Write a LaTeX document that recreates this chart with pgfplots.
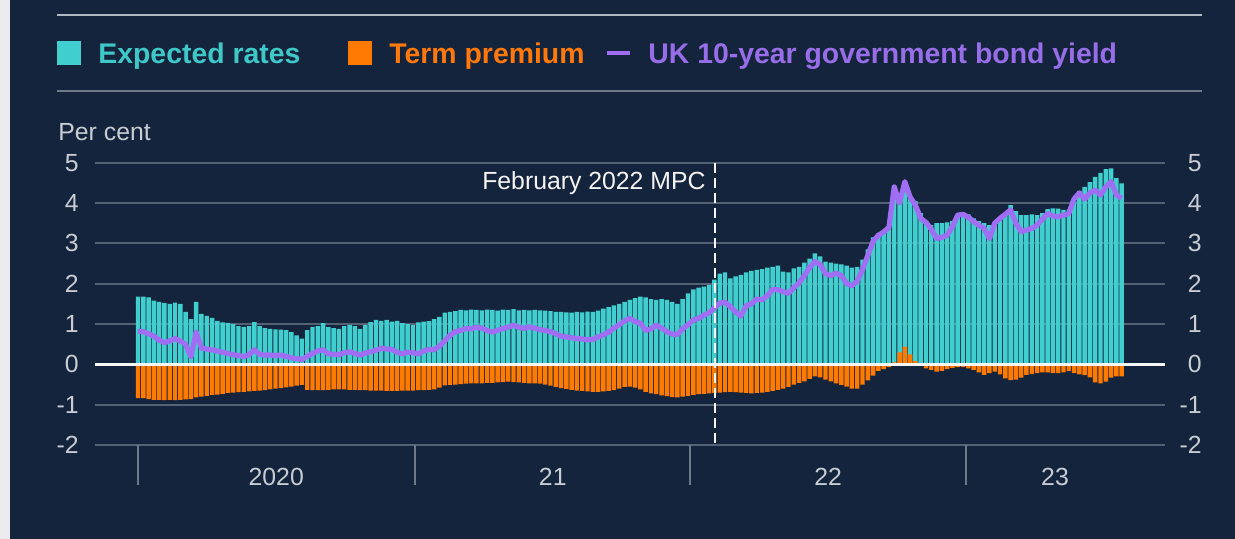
\documentclass[border=0pt]{standalone}
\usepackage{fontspec}
\setmainfont{Liberation Sans}
\usepackage{pgfplots}
\usepackage{pgfplotstable}
\pgfplotsset{compat=1.18}

\definecolor{bg}{RGB}{20,36,61}
\definecolor{strip}{RGB}{235,235,235}
\definecolor{cyanbar}{RGB}{64,206,206}
\definecolor{orangebar}{RGB}{255,122,0}
\definecolor{purp}{RGB}{160,110,242}
\definecolor{cyantext}{RGB}{62,200,200}
\definecolor{orangetext}{RGB}{255,120,10}
\definecolor{purptext}{RGB}{152,110,232}
\definecolor{gridc}{RGB}{84,98,118}
\definecolor{sepc}{RGB}{110,122,138}
\definecolor{labelc}{RGB}{200,205,212}
\definecolor{topline}{RGB}{176,184,194}
\definecolor{midline}{RGB}{110,122,138}

% weeks since 1 Jan 2020; e = expected rates, t = term premium, y = 10-year yield
\pgfplotstableread{
w e t y
0 1.68 -0.84 0.82
1 1.68 -0.84 0.81
2 1.66 -0.86 0.76
3 1.58 -0.88 0.70
4 1.55 -0.88 0.60
5 1.52 -0.89 0.54
6 1.50 -0.88 0.58
7 1.53 -0.89 0.64
8 1.50 -0.88 0.58
9 1.30 -0.87 0.50
10 1.12 -0.86 0.19
11 1.55 -0.82 0.80
12 1.25 -0.80 0.40
13 1.20 -0.78 0.38
14 1.15 -0.76 0.36
15 1.08 -0.75 0.33
16 1.04 -0.73 0.30
17 1.03 -0.71 0.27
18 1.00 -0.70 0.24
19 0.95 -0.69 0.22
20 0.93 -0.68 0.19
21 0.95 -0.67 0.24
22 1.05 -0.66 0.36
23 0.95 -0.65 0.25
24 0.90 -0.64 0.23
25 0.88 -0.62 0.23
26 0.87 -0.60 0.22
27 0.86 -0.59 0.23
28 0.85 -0.57 0.20
29 0.80 -0.55 0.16
30 0.72 -0.53 0.14
31 0.64 -0.51 0.12
32 0.85 -0.63 0.20
33 0.93 -0.64 0.27
34 0.95 -0.64 0.33
35 1.02 -0.64 0.36
36 0.92 -0.63 0.26
37 0.90 -0.62 0.25
38 0.88 -0.62 0.24
39 0.95 -0.62 0.29
40 0.97 -0.63 0.31
41 0.95 -0.63 0.27
42 0.88 -0.64 0.23
43 0.98 -0.64 0.28
44 1.05 -0.65 0.31
45 1.10 -0.65 0.35
46 1.08 -0.65 0.40
47 1.10 -0.66 0.38
48 1.06 -0.66 0.37
49 1.08 -0.66 0.30
50 1.02 -0.65 0.26
51 1.00 -0.65 0.30
52 0.98 -0.65 0.29
53 1.04 -0.64 0.26
54 1.06 -0.64 0.33
55 1.07 -0.63 0.37
56 1.12 -0.62 0.36
57 1.18 -0.58 0.45
58 1.28 -0.52 0.58
59 1.30 -0.51 0.72
60 1.32 -0.50 0.81
61 1.35 -0.49 0.84
62 1.34 -0.48 0.89
63 1.36 -0.47 0.88
64 1.35 -0.47 0.92
65 1.34 -0.47 0.90
66 1.36 -0.46 0.84
67 1.35 -0.46 0.80
68 1.33 -0.45 0.84
69 1.36 -0.44 0.89
70 1.35 -0.43 0.92
71 1.37 -0.44 0.97
72 1.34 -0.45 0.92
73 1.35 -0.46 0.89
74 1.34 -0.47 0.93
75 1.35 -0.47 0.90
76 1.34 -0.48 0.86
77 1.33 -0.50 0.84
78 1.32 -0.53 0.81
79 1.30 -0.56 0.76
80 1.30 -0.59 0.70
81 1.29 -0.61 0.68
82 1.28 -0.63 0.66
83 1.30 -0.65 0.64
84 1.29 -0.66 0.63
85 1.31 -0.67 0.61
86 1.30 -0.68 0.62
87 1.33 -0.68 0.68
88 1.38 -0.67 0.73
89 1.42 -0.66 0.80
90 1.46 -0.64 0.90
91 1.50 -0.60 0.98
92 1.55 -0.56 1.08
93 1.60 -0.55 1.14
94 1.64 -0.58 1.06
95 1.68 -0.62 1.02
96 1.66 -0.68 0.84
97 1.62 -0.72 0.88
98 1.60 -0.74 0.97
99 1.62 -0.77 0.90
100 1.60 -0.79 0.81
101 1.55 -0.81 0.75
102 1.50 -0.82 0.74
103 1.62 -0.80 0.88
104 1.76 -0.78 0.98
105 1.86 -0.76 1.10
106 1.90 -0.74 1.14
107 1.93 -0.73 1.22
108 1.97 -0.72 1.28
109 2.10 -0.71 1.40
110 2.25 -0.70 1.52
111 2.28 -0.69 1.54
112 2.13 -0.68 1.43
113 2.18 -0.69 1.30
114 2.22 -0.70 1.20
115 2.28 -0.71 1.45
116 2.32 -0.72 1.50
117 2.34 -0.71 1.62
118 2.36 -0.70 1.60
119 2.40 -0.68 1.70
120 2.42 -0.66 1.86
121 2.45 -0.63 1.85
122 2.30 -0.60 1.80
123 2.28 -0.56 1.76
124 2.38 -0.50 1.90
125 2.42 -0.46 2.02
126 2.52 -0.42 2.20
127 2.62 -0.36 2.40
128 2.75 -0.30 2.55
129 2.68 -0.32 2.48
130 2.55 -0.38 2.25
131 2.52 -0.42 2.20
132 2.50 -0.47 2.26
133 2.48 -0.51 2.20
134 2.45 -0.55 2.00
135 2.40 -0.60 1.95
136 2.42 -0.60 2.06
137 2.60 -0.50 2.35
138 2.85 -0.40 2.70
139 3.15 -0.28 3.05
140 3.25 -0.16 3.20
141 3.32 -0.12 3.28
142 3.40 -0.07 3.40
143 4.40 0.05 4.40
144 4.05 0.30 4.00
145 4.52 0.44 4.53
146 4.15 0.25 4.15
147 4.05 0.08 3.95
148 3.75 0.02 3.62
149 3.55 -0.10 3.52
150 3.45 -0.14 3.35
151 3.50 -0.18 3.12
152 3.50 -0.16 3.15
153 3.52 -0.12 3.20
154 3.55 -0.09 3.42
155 3.68 -0.07 3.70
156 3.74 -0.07 3.72
157 3.72 -0.10 3.65
158 3.62 -0.14 3.54
159 3.55 -0.20 3.45
160 3.50 -0.26 3.37
161 3.45 -0.22 3.12
162 3.48 -0.18 3.50
163 3.62 -0.25 3.62
164 3.75 -0.35 3.72
165 3.95 -0.39 3.83
166 3.80 -0.38 3.50
167 3.70 -0.33 3.29
168 3.70 -0.26 3.33
169 3.72 -0.24 3.37
170 3.70 -0.22 3.45
171 3.75 -0.20 3.60
172 3.85 -0.20 3.74
173 3.87 -0.22 3.68
174 3.86 -0.22 3.66
175 3.83 -0.20 3.70
176 3.84 -0.17 3.74
177 4.05 -0.22 4.10
178 4.30 -0.25 4.25
179 4.40 -0.27 4.10
180 4.52 -0.32 4.25
181 4.65 -0.45 4.32
182 4.75 -0.47 4.20
183 4.84 -0.43 4.40
184 4.86 -0.33 4.53
185 4.62 -0.30 4.20
186 4.49 -0.30 4.12
}\data

\begin{document}
\begin{tikzpicture}[x=0.5pt,y=-0.5pt]
\useasboundingbox (0,0) rectangle (1235,539);
\fill[bg] (0,0) rectangle (1235,539);
\fill[strip] (0,0) rectangle (10,539);

% header rules
\draw[topline, line width=1.3pt] (57,15) -- (1202,15);
\draw[midline, line width=0.6pt] (57,91) -- (1202,91);

% legend
\fill[cyanbar] (57,41) rectangle (81,65);
\node[anchor=base west, inner sep=0pt, text=cyantext, font=\fontsize{14.2}{16}\selectfont\bfseries] at (98,63.5) {Expected rates};
\fill[orangebar] (348,41) rectangle (372,65);
\node[anchor=base west, inner sep=0pt, text=orangetext, font=\fontsize{14.2}{16}\selectfont\bfseries] at (389,63.5) {Term premium};
\draw[purp, line width=2.4pt] (607,53) -- (630,53);
\node[anchor=base west, inner sep=0pt, text=purptext, font=\fontsize{14.2}{16}\selectfont\bfseries] at (648,63.5) {UK 10-year government bond yield};

\node[anchor=base west, inner sep=0pt, text=labelc, font=\fontsize{12.4}{14}\selectfont] at (58,141) {Per cent};

\begin{axis}[
    at={(47.5pt,-222.5pt)}, anchor=south west,
    scale only axis, width=535pt, height=141.15pt,
    xmin=-8.13, xmax=194.2, ymin=-2, ymax=5,
    axis line style={draw=none},
    clip=false,
    major tick length=0pt,
    ytick={-2,-1,0,1,2,3,4,5},
    yticklabels={-2,-1,0,1,2,3,4,5},
    ytick pos=left,
    yticklabel style={anchor=east, inner sep=0pt, xshift=-8pt},
    ymajorgrids, grid style={gridc, line width=1pt},
    xtick={26.14,78.43,130.5,173.4},
    xticklabels={2020,21,22,23},
    xtick pos=bottom,
    xticklabel style={anchor=base, inner sep=0pt, yshift=-20pt},
    extra x ticks={0,52.29,104.43,156.57},
    extra x tick labels={},
    extra x tick style={major tick length=20pt, tick align=outside, tick style={draw=sepc, line width=1pt}},
    tick label style={text=labelc, font=\fontsize{12.4}{14}\selectfont},
]
\addplot[ybar, bar width=0.84, bar shift=0pt, fill=cyanbar, draw=none] table[x=w, y=e] {\data};
\addplot[ybar, bar width=0.84, bar shift=0pt, fill=orangebar, draw=none] table[x=w, y=t] {\data};
\addplot[purp, line width=2.6pt, line join=round] table[x=w, y=y] {\data};
\draw[white!94!gray, line width=1.5pt] (axis cs:-8.13,0) -- (axis cs:194.2,0);
\draw[white!92!gray, line width=1pt, dash pattern=on 5pt off 2.5pt] (axis cs:109.14,5) -- (axis cs:109.14,-2);
\node[anchor=east, inner sep=0pt, text=white!92!gray, font=\fontsize{12.4}{14}\selectfont] at (axis cs:107.4,4.5) {February 2022 MPC};
\end{axis}

\begin{axis}[
    at={(47.5pt,-222.5pt)}, anchor=south west,
    scale only axis, width=535pt, height=141.15pt,
    xmin=-8.13, xmax=194.2, ymin=-2, ymax=5,
    hide x axis,
    axis line style={draw=none},
    major tick length=0pt,
    ytick={-2,-1,0,1,2,3,4,5},
    yticklabels={-2,-1,0,1,2,3,4,5},
    ytick pos=right, yticklabel pos=right,
    yticklabel style={anchor=east, inner sep=0pt, xshift=18.5pt},
    tick label style={text=labelc, font=\fontsize{12.4}{14}\selectfont},
]
\end{axis}
\end{tikzpicture}
\end{document}
